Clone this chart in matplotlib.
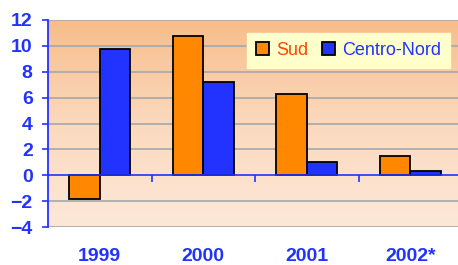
import numpy as np
import matplotlib
matplotlib.use("Agg")
import matplotlib.pyplot as plt
from matplotlib.colors import LinearSegmentedColormap

# data
years = ["1999", "2000", "2001", "2002*"]
sud = [-1.85, 10.75, 6.3, 1.45]
centro_nord = [9.75, 7.2, 1.05, 0.35]

blue = "#2233FF"
orange = "#FF8800"
plt.rcParams["font.family"] = ["Liberation Sans", "DejaVu Sans"]

fig = plt.figure(figsize=(4.58, 2.65), dpi=100)
fig.patch.set_facecolor("white")
ax = fig.add_axes([48 / 458, 38 / 265, 414 / 458, 207 / 265])

# background gradient, darker at the top
grad = LinearSegmentedColormap.from_list("bg", ["#FDE8D8", "#FBD9BE", "#F7BD8A"])
ax.imshow(np.linspace(0, 1, 256).reshape(-1, 1), cmap=grad, origin="lower",
          aspect="auto", extent=[0, 1, 0, 1], transform=ax.transAxes, zorder=0)

x = np.arange(len(years))
w = 0.295
ax.bar(x - w / 2, sud, w, color=orange, edgecolor="black", linewidth=1.3,
       label="Sud", zorder=3)
ax.bar(x + w / 2, centro_nord, w, color=blue, edgecolor="black", linewidth=1.3,
       label="Centro-Nord", zorder=3)

ax.set_xlim(-0.5, len(years) - 0.5)
ax.set_ylim(-4, 12)
ax.set_yticks(range(-4, 13, 2))
for yv in range(-4, 13, 2):
    if yv != 0:
        ax.axhline(yv, color="#A4A8AC", linewidth=1.2, zorder=1)
ax.axhline(0, color=blue, linewidth=1.2, zorder=4)
# small tick marks on the zero line between categories
ax.vlines(x[1:] - 0.5, -0.5, 0, color=blue, linewidth=1.2, zorder=4)

for s in ["top", "right", "bottom"]:
    ax.spines[s].set_visible(False)
ax.spines["left"].set_color(blue)
ax.spines["left"].set_linewidth(1.3)

ax.set_xticks(x)
ax.set_xticklabels(years)
ax.tick_params(axis="x", length=0, pad=15, labelsize=14, labelcolor=blue)
ax.tick_params(axis="y", direction="out", length=4, width=1.2, color=blue,
               labelsize=14, labelcolor=blue, pad=7)
for t in ax.get_xticklabels() + ax.get_yticklabels():
    t.set_fontweight("bold")

leg = ax.legend(loc="upper left", bbox_to_anchor=(247 / 458, 1 - 33 / 265),
                bbox_transform=fig.transFigure, ncol=2, frameon=True,
                fancybox=False, fontsize=13, handlelength=0.7,
                handleheight=0.7, handletextpad=0.4, columnspacing=0.8,
                borderpad=0.5, borderaxespad=0)
leg.get_frame().set_facecolor("#FFFFCC")
leg.get_frame().set_edgecolor("#FFFFCC")
leg.get_frame().set_alpha(1)
leg.get_texts()[0].set_color("#FF4400")
leg.get_texts()[1].set_color(blue)

fig.savefig("out.png", dpi=100)
